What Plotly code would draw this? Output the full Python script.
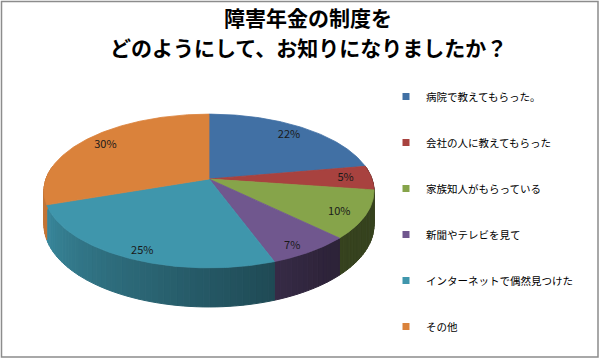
import numpy as np
import plotly.graph_objects as go

# ---- data ----
categories = ["病院で教えてもらった。", "会社の人に教えてもらった", "家族知人がもらっている",
              "新聞やテレビを見て", "インターネットで偶然見つけた", "その他"]
values = [22, 5, 10, 7, 25, 30]
colors_rgb = [(65, 112, 164), (168, 66, 63), (134, 164, 74),
              (112, 87, 142), (63, 150, 172), (218, 130, 59)]
title_lines = ["障害年金の制度を", "どのようにして、お知りになりましたか？"]

FONT = "Noto Sans CJK JP"
W, H = 600, 359

# ---- 3D pie projection parameters (pixel space) ----
CX, CY = 209.0, 179.0
B, A, K = 163.0, 75.0, 0.156
DEPTH = 33.0


def proj(t_deg, rho=1.0, z=0.0):
    t = np.radians(t_deg)
    u = rho * np.sin(t)
    v = -rho * np.cos(t)
    f = 1.0 / (1.0 - K * v)
    return CX + B * u * f, CY + A * v * f + z * f


def rgb(c, s=1.0):
    return "rgb(%d,%d,%d)" % tuple(int(max(0, min(255, round(ch * s)))) for ch in c)


def side_shade(t):
    return 0.40 + 0.5 * float(np.clip((t - 140.0) / 110.0, 0, 1))


total = float(sum(values))
bounds = np.concatenate([[0.0], np.cumsum(values) / total * 360.0])

fig = go.Figure()

# side faces (front part of the cylinder)
for i, c in enumerate(colors_rgb):
    t0, t1 = bounds[i], bounds[i + 1]
    a0, a1 = max(t0, 80.0), min(t1, 280.0)
    if a1 <= a0:
        continue
    nseg = max(1, int(np.ceil((a1 - a0) / 2.0)))
    edges = np.linspace(a0, a1, nseg + 1)
    for j in range(nseg):
        ts = np.linspace(edges[j], edges[j + 1], 4)
        xt, yt = proj(ts)
        xb, yb = proj(ts[::-1], z=DEPTH)
        col = rgb(c, side_shade(0.5 * (edges[j] + edges[j + 1])))
        fig.add_trace(go.Scatter(
            x=np.concatenate([xt, xb, xt[:1]]), y=np.concatenate([yt, yb, yt[:1]]),
            mode="lines", fill="toself", fillcolor=col,
            line=dict(color=col, width=1), hoverinfo="skip", showlegend=False))

# top faces
for i, c in enumerate(colors_rgb):
    t0, t1 = bounds[i], bounds[i + 1]
    ts = np.linspace(t0, t1, max(8, int((t1 - t0) * 1.5)))
    xa, ya = proj(ts)
    xs = np.concatenate([[CX], xa, [CX]])
    ys = np.concatenate([[CY], ya, [CY]])
    fig.add_trace(go.Scatter(
        x=xs, y=ys, mode="lines", fill="toself", fillcolor=rgb(c),
        line=dict(color=rgb(c), width=0.8), hoverinfo="skip", showlegend=False))

# data labels
lx, ly, lt = [], [], []
for i in range(len(values)):
    tm = 0.5 * (bounds[i] + bounds[i + 1])
    x, y = proj(tm, rho=0.84)
    v = -np.cos(np.radians(tm))
    y += 9 * max(v, 0)
    lx.append(x)
    ly.append(y)
    lt.append("%d%%" % round(values[i] / total * 100))
fig.add_trace(go.Scatter(x=lx, y=ly, mode="text", text=lt,
                         textfont=dict(family=FONT, size=11, color="#1a1a1a"),
                         hoverinfo="skip", showlegend=False))

# legend entries
for cat, c in zip(categories, colors_rgb):
    fig.add_trace(go.Scatter(x=[None], y=[None], mode="markers", name=cat,
                             legendgroup=cat,
                             marker=dict(symbol="square", size=7, color=rgb(c))))

# title lines
annotations = []
for k, line in enumerate(title_lines):
    annotations.append(dict(text="<b>" + line + "</b>", x=308 / W, y=1 - (17 + 30 * k) / H,
                            xref="paper", yref="paper", xanchor="center", yanchor="middle",
                            showarrow=False,
                            font=dict(family=FONT, size=21, color="#000000")))

fig.update_layout(
    width=W, height=H,
    margin=dict(l=0, r=0, t=0, b=0),
    paper_bgcolor="white", plot_bgcolor="white",
    annotations=annotations,
    xaxis=dict(range=[0, W], visible=False, fixedrange=True),
    yaxis=dict(range=[H, 0], visible=False, fixedrange=True),
    legend=dict(x=386 / W, xanchor="left", y=1 - 82 / H, yanchor="top",
                tracegroupgap=27, bgcolor="rgba(0,0,0,0)",
                font=dict(family=FONT, size=10.5, color="#000000")),
    showlegend=True,
    shapes=[dict(type="rect", xref="x", yref="y", x0=1.5, x1=598, y0=1.5, y1=357,
                 line=dict(color="#8c8c8c", width=1.5), layer="above")],
)

fig.write_html("out.html", config={"displayModeBar": False},
               post_script="document.body.style.margin='0';document.body.style.overflow='hidden';")
